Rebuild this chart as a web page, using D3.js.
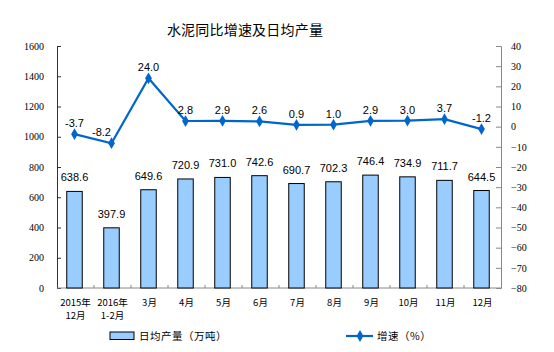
<!DOCTYPE html>
<html><head><meta charset="utf-8">
<script src="https://cdn.jsdelivr.net/npm/d3@7/dist/d3.min.js"></script>
<style>body{margin:0;background:#fff}svg{display:block}</style>
</head><body>
<script>
const categories = [["2015年","12月"],["2016年","1-2月"],["3月"],["4月"],["5月"],["6月"],["7月"],["8月"],["9月"],["10月"],["11月"],["12月"]];
const output = [638.6,397.9,649.6,720.9,731.0,742.6,690.7,702.3,746.4,734.9,711.7,644.5];
const growth = [-3.7,-8.2,24.0,2.8,2.9,2.6,0.9,1.0,2.9,3.0,3.7,-1.2];
const leftTicks = [0,200,400,600,800,1000,1200,1400,1600];
const rightTicks = [-80,-70,-60,-50,-40,-30,-20,-10,0,10,20,30,40];
const title = "水泥同比增速及日均产量";
const legendBar = "日均产量（万吨）";
const legendLine = "增速（%）";

const W=554,H=352;
const svg=d3.select("body").append("svg").attr("width",W).attr("height",H);
const L=57,R=501,T=46,B=288;
const x=d3.scaleBand().domain(d3.range(categories.length)).range([L,R]);
const yL=d3.scaleLinear().domain([0,1600]).range([B,T]);
const yR=d3.scaleLinear().domain([-80,40]).range([B,T]);
const cjk='"Noto Sans CJK SC","Noto Sans",sans-serif';

svg.append("text").attr("x",245).attr("y",35).attr("text-anchor","middle")
  .style("font-family",cjk).style("font-size","14px").style("letter-spacing","0.2px").attr("fill","#000").text(title);

// left axis
const gl=svg.append("g").attr("transform",`translate(${L},0)`)
  .call(d3.axisLeft(yL).tickValues(leftTicks).tickFormat(d3.format("d")).tickSize(-4).tickPadding(13));
gl.select(".domain").attr("stroke","#333");
gl.selectAll(".tick line").attr("stroke","#333");
gl.selectAll("text").style("font-family","'Liberation Serif','DejaVu Serif',serif").style("font-size","10px").attr("fill","#000");

// right axis
const gr=svg.append("g").attr("transform",`translate(${R},0)`)
  .call(d3.axisRight(yR).tickValues(rightTicks).tickFormat(d3.format("d")).tickSize(-5).tickPadding(10));
gr.select(".domain").attr("stroke","#888");
gr.selectAll(".tick line").attr("stroke","#888");
gr.selectAll("text").style("font-family","'Liberation Serif','DejaVu Serif',serif").style("font-size","10px").attr("fill","#000");

// bottom axis line and ticks at category boundaries
svg.append("line").attr("x1",L).attr("x2",R).attr("y1",B).attr("y2",B).attr("stroke","#888");
svg.selectAll("line.bt").data(d3.range(1,categories.length)).enter().append("line")
  .attr("x1",d=>x(d)).attr("x2",d=>x(d)).attr("y1",B).attr("y2",B-3).attr("stroke","#888");

const bw=15.5;
const cx=i=>x(i)+x.bandwidth()/2-1;
svg.selectAll("rect.bar").data(output).enter().append("rect")
  .attr("x",(d,i)=>cx(i)-bw/2).attr("width",bw)
  .attr("y",d=>yL(d)).attr("height",d=>B-yL(d))
  .attr("fill","#99CCFF").attr("stroke","#000").attr("stroke-width",1);
svg.selectAll("text.bl").data(output).enter().append("text")
  .attr("x",(d,i)=>cx(i)).attr("y",d=>yL(d)-10).attr("text-anchor","middle")
  .style("font-family","'Liberation Sans',Arial,sans-serif").style("font-size","11px").attr("fill","#000")
  .text(d=>d.toFixed(1));

const line=d3.line().x((d,i)=>cx(i)).y(d=>yR(d));
svg.append("path").datum(growth).attr("d",line).attr("fill","none").attr("stroke","#0066CC").attr("stroke-width",2.2);
const diamond=d3.symbol().type(d3.symbolDiamond).size(40);
svg.selectAll("path.mk").data(growth).enter().append("path")
  .attr("d",diamond).attr("transform",(d,i)=>`translate(${cx(i)},${yR(d)})`).attr("fill","#0066CC");
svg.selectAll("text.ll").data(growth).enter().append("text")
  .attr("x",(d,i)=>cx(i)-(i===1?10:0)).attr("y",d=>yR(d)-7).attr("text-anchor","middle")
  .style("font-family","'Liberation Sans',Arial,sans-serif").style("font-size","11px").attr("fill","#000")
  .text(d=>d.toFixed(1));

// x labels
const xl=svg.selectAll("g.xl").data(categories).enter().append("g");
xl.each(function(c,i){
  c.forEach((t,j)=>{
    d3.select(this).append("text").attr("x",x(i)+x.bandwidth()/2).attr("y",306+j*13).attr("text-anchor","middle")
      .style("font-family",cjk).style("font-size","9.5px").attr("fill","#000").text(t);
  });
});

// legend
svg.append("rect").attr("x",110).attr("y",332).attr("width",24).attr("height",7.5).attr("fill","#99CCFF").attr("stroke","#000");
svg.append("text").attr("x",139).attr("y",340).style("font-family",cjk).style("font-size","10.5px").style("letter-spacing","0.5px").text(legendBar);
svg.append("line").attr("x1",346).attr("x2",373).attr("y1",336).attr("y2",336).attr("stroke","#0066CC").attr("stroke-width",2.2);
svg.append("path").attr("d",diamond).attr("transform","translate(360,336)").attr("fill","#0066CC");
svg.append("text").attr("x",377).attr("y",340).style("font-family",cjk).style("font-size","10.5px").style("letter-spacing","0.5px").text(legendLine);
</script>
</body></html>
